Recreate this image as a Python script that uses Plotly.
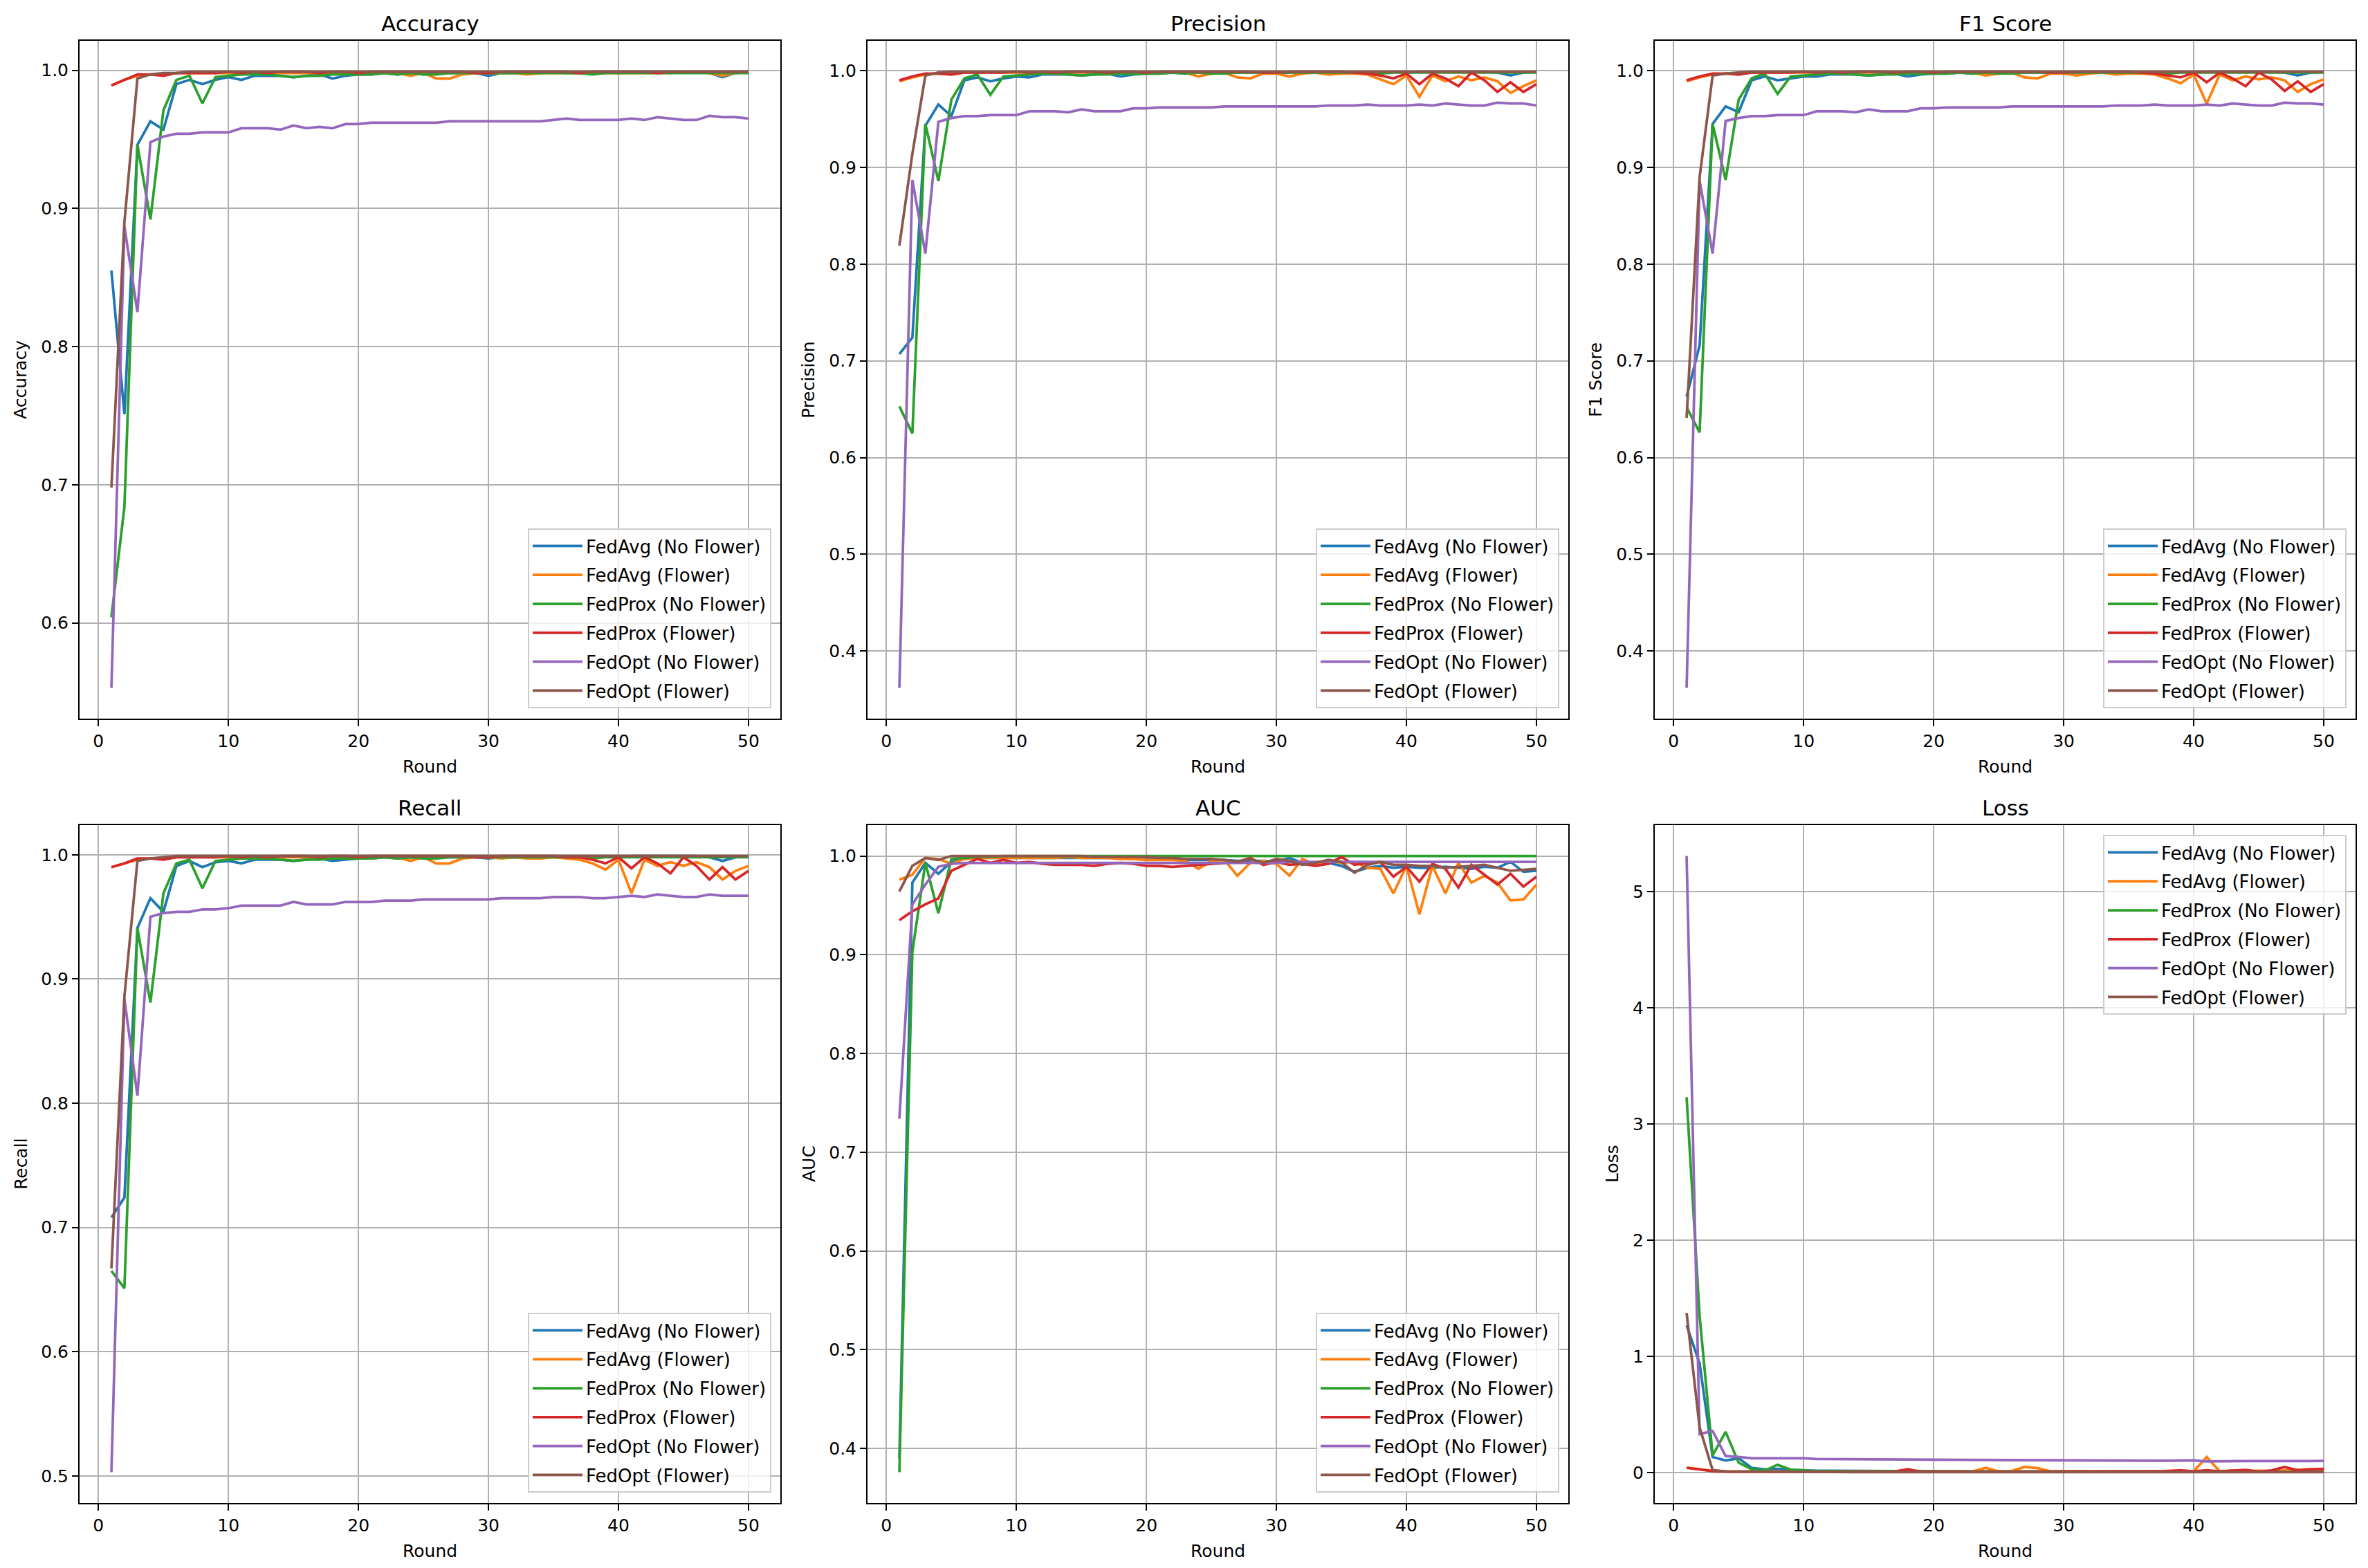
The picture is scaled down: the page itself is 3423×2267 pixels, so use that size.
import plotly.graph_objects as go
from plotly.subplots import make_subplots

ROUNDS = list(range(1, 51))

SERIES_NAMES = ['FedAvg (No Flower)', 'FedAvg (Flower)', 'FedProx (No Flower)',
                'FedProx (Flower)', 'FedOpt (No Flower)', 'FedOpt (Flower)']
COLORS = ['#1f77b4', '#ff7f0e', '#2ca02c', '#d62728', '#9467bd', '#8c564b']

# ---------------- Accuracy ----------------
acc_fedavg_nf = [0.855, 0.751, 0.946, 0.963, 0.957, 0.990, 0.993, 0.990, 0.993, 0.995,
                 0.993, 0.996, 0.996, 0.996, 0.995, 0.996, 0.997, 0.994, 0.996, 0.997,
                 0.997, 0.998, 0.997, 0.998, 0.997, 0.998, 0.998, 0.998, 0.998, 0.996,
                 0.998, 0.998, 0.998, 0.998, 0.999, 0.998, 0.998, 0.998, 0.999, 0.998,
                 0.999, 0.999, 0.999, 0.999, 0.999, 0.999, 0.998, 0.995, 0.998, 0.999]
acc_fedavg_f = [0.989, 0.993, 0.996, 0.997, 0.997, 0.998, 0.998, 0.998, 0.998, 0.998,
                0.998, 0.998, 0.998, 0.998, 0.998, 0.998, 0.998, 0.998, 0.998, 0.998,
                0.998, 0.998, 0.998, 0.996, 0.998, 0.994, 0.994, 0.997, 0.998, 0.998,
                0.998, 0.998, 0.997, 0.998, 0.998, 0.998, 0.998, 0.998, 0.998, 0.998,
                0.998, 0.998, 0.998, 0.998, 0.999, 0.999, 0.998, 0.996, 0.998, 0.999]
acc_fedprox_nf = [0.604, 0.684, 0.946, 0.892, 0.971, 0.993, 0.996, 0.976, 0.995, 0.996,
                  0.997, 0.997, 0.997, 0.996, 0.995, 0.996, 0.996, 0.997, 0.997, 0.997,
                  0.997, 0.998, 0.997, 0.998, 0.997, 0.997, 0.998, 0.998, 0.998, 0.998,
                  0.998, 0.998, 0.998, 0.998, 0.998, 0.998, 0.998, 0.997, 0.998, 0.998,
                  0.998, 0.998, 0.998, 0.998, 0.998, 0.998, 0.998, 0.998, 0.998, 0.998]
acc_fedprox_f = [0.989, 0.993, 0.997, 0.997, 0.996, 0.998, 0.998, 0.998, 0.998, 0.999,
                 0.998, 0.999, 0.998, 0.999, 0.999, 0.999, 0.998, 0.999, 0.999, 0.998,
                 0.999, 0.999, 0.999, 0.999, 0.999, 0.999, 0.999, 0.999, 0.998, 0.998,
                 0.999, 0.999, 0.999, 0.999, 0.999, 0.999, 0.998, 0.999, 0.999, 0.999,
                 0.999, 0.999, 0.998, 0.999, 0.999, 0.999, 0.999, 0.999, 0.999, 0.999]
acc_fedopt_nf = [0.553, 0.887, 0.825, 0.948, 0.952, 0.954, 0.954, 0.955, 0.955, 0.955,
                 0.958, 0.958, 0.958, 0.957, 0.960, 0.958, 0.959, 0.958, 0.961, 0.961,
                 0.962, 0.962, 0.962, 0.962, 0.962, 0.962, 0.963, 0.963, 0.963, 0.963,
                 0.963, 0.963, 0.963, 0.963, 0.964, 0.965, 0.964, 0.964, 0.964, 0.964,
                 0.965, 0.964, 0.966, 0.965, 0.964, 0.964, 0.967, 0.966, 0.966, 0.965]
acc_fedopt_f = [0.698, 0.890, 0.994, 0.997, 0.998, 0.998, 0.999, 0.999, 0.999, 0.999,
                0.999, 0.999, 0.999, 0.999, 0.999, 0.999, 0.999, 0.999, 0.999, 0.999,
                0.999, 0.999, 0.999, 0.999, 0.999, 0.999, 0.999, 0.999, 0.999, 0.999,
                0.999, 0.999, 0.999, 0.999, 0.999, 0.999, 0.999, 0.999, 0.999, 0.999,
                0.999, 0.999, 0.999, 0.999, 0.999, 0.999, 0.999, 0.999, 0.999, 0.999]

# ---------------- Precision ----------------
prec_fedavg_nf = [0.707, 0.724, 0.943, 0.965, 0.953, 0.990, 0.993, 0.989, 0.992, 0.994,
                  0.993, 0.996, 0.996, 0.996, 0.995, 0.996, 0.997, 0.994, 0.996, 0.997,
                  0.997, 0.998, 0.997, 0.998, 0.997, 0.998, 0.998, 0.998, 0.998, 0.997,
                  0.998, 0.998, 0.998, 0.998, 0.999, 0.998, 0.998, 0.998, 0.999, 0.998,
                  0.999, 0.999, 0.999, 0.999, 0.999, 0.999, 0.998, 0.995, 0.998, 0.999]
prec_fedavg_f = [0.989, 0.993, 0.996, 0.997, 0.997, 0.998, 0.998, 0.998, 0.998, 0.998,
                 0.998, 0.998, 0.998, 0.998, 0.998, 0.998, 0.998, 0.998, 0.998, 0.998,
                 0.998, 0.998, 0.998, 0.994, 0.997, 0.998, 0.993, 0.992, 0.997, 0.997,
                 0.994, 0.997, 0.998, 0.996, 0.997, 0.997, 0.996, 0.991, 0.986, 0.995,
                 0.973, 0.995, 0.989, 0.994, 0.990, 0.993, 0.989, 0.977, 0.984, 0.990]
prec_fedprox_nf = [0.653, 0.625, 0.945, 0.886, 0.970, 0.992, 0.996, 0.975, 0.994, 0.995,
                   0.996, 0.997, 0.997, 0.996, 0.995, 0.996, 0.996, 0.997, 0.997, 0.997,
                   0.997, 0.998, 0.997, 0.998, 0.997, 0.997, 0.998, 0.998, 0.998, 0.998,
                   0.998, 0.998, 0.998, 0.998, 0.998, 0.998, 0.998, 0.997, 0.998, 0.998,
                   0.998, 0.998, 0.998, 0.998, 0.998, 0.998, 0.998, 0.998, 0.998, 0.998]
prec_fedprox_f = [0.990, 0.994, 0.997, 0.997, 0.996, 0.998, 0.998, 0.998, 0.998, 0.999,
                  0.998, 0.999, 0.998, 0.999, 0.999, 0.999, 0.998, 0.999, 0.999, 0.998,
                  0.999, 0.999, 0.999, 0.999, 0.999, 0.999, 0.999, 0.999, 0.998, 0.998,
                  0.999, 0.999, 0.999, 0.999, 0.999, 0.998, 0.997, 0.995, 0.992, 0.997,
                  0.986, 0.997, 0.992, 0.984, 0.998, 0.990, 0.978, 0.988, 0.978, 0.986]
prec_fedopt_nf = [0.362, 0.887, 0.811, 0.947, 0.951, 0.953, 0.953, 0.954, 0.954, 0.954,
                  0.958, 0.958, 0.958, 0.957, 0.960, 0.958, 0.958, 0.958, 0.961, 0.961,
                  0.962, 0.962, 0.962, 0.962, 0.962, 0.963, 0.963, 0.963, 0.963, 0.963,
                  0.963, 0.963, 0.963, 0.964, 0.964, 0.964, 0.965, 0.964, 0.964, 0.964,
                  0.965, 0.964, 0.966, 0.965, 0.964, 0.964, 0.967, 0.966, 0.966, 0.964]
prec_fedopt_f = [0.819, 0.914, 0.995, 0.998, 0.999, 0.999, 0.999, 0.999, 0.999, 0.999,
                 0.999, 0.999, 0.999, 0.999, 0.999, 0.999, 0.999, 0.999, 0.999, 0.999,
                 0.999, 0.999, 0.999, 0.999, 0.999, 0.999, 0.999, 0.999, 0.999, 0.999,
                 0.999, 0.999, 0.999, 0.999, 0.999, 0.999, 0.999, 0.999, 0.999, 0.999,
                 0.999, 0.999, 0.999, 0.999, 0.999, 0.999, 0.999, 0.999, 0.999, 0.999]

# ---------------- F1 Score ----------------
f1_fedavg_nf = [0.663, 0.716, 0.945, 0.963, 0.957, 0.990, 0.994, 0.990, 0.992, 0.994,
                0.994, 0.996, 0.996, 0.996, 0.995, 0.996, 0.997, 0.994, 0.996, 0.997,
                0.997, 0.998, 0.997, 0.998, 0.997, 0.998, 0.998, 0.998, 0.998, 0.997,
                0.998, 0.998, 0.998, 0.998, 0.999, 0.998, 0.998, 0.998, 0.999, 0.998,
                0.999, 0.999, 0.999, 0.999, 0.999, 0.999, 0.998, 0.995, 0.998, 0.999]
f1_fedavg_f = [0.989, 0.993, 0.996, 0.997, 0.997, 0.998, 0.998, 0.998, 0.998, 0.998,
               0.998, 0.998, 0.998, 0.998, 0.998, 0.998, 0.998, 0.998, 0.998, 0.998,
               0.998, 0.998, 0.998, 0.995, 0.997, 0.998, 0.993, 0.992, 0.997, 0.997,
               0.995, 0.997, 0.998, 0.996, 0.997, 0.997, 0.996, 0.992, 0.987, 0.996,
               0.966, 0.996, 0.990, 0.994, 0.991, 0.993, 0.990, 0.978, 0.986, 0.991]
f1_fedprox_nf = [0.652, 0.626, 0.945, 0.887, 0.970, 0.992, 0.997, 0.976, 0.994, 0.995,
                 0.996, 0.997, 0.997, 0.996, 0.995, 0.996, 0.996, 0.997, 0.997, 0.997,
                 0.997, 0.998, 0.997, 0.998, 0.997, 0.997, 0.998, 0.998, 0.998, 0.998,
                 0.998, 0.998, 0.998, 0.998, 0.998, 0.998, 0.998, 0.997, 0.998, 0.998,
                 0.998, 0.998, 0.998, 0.998, 0.998, 0.998, 0.998, 0.998, 0.998, 0.998]
f1_fedprox_f = [0.990, 0.994, 0.997, 0.997, 0.996, 0.998, 0.998, 0.998, 0.998, 0.999,
                0.998, 0.999, 0.998, 0.999, 0.999, 0.999, 0.998, 0.999, 0.999, 0.998,
                0.999, 0.999, 0.999, 0.999, 0.999, 0.999, 0.999, 0.999, 0.998, 0.998,
                0.999, 0.999, 0.999, 0.999, 0.999, 0.998, 0.997, 0.995, 0.993, 0.998,
                0.988, 0.998, 0.992, 0.984, 0.998, 0.991, 0.979, 0.989, 0.978, 0.986]
f1_fedopt_nf = [0.362, 0.886, 0.811, 0.948, 0.951, 0.953, 0.953, 0.954, 0.954, 0.954,
                0.958, 0.958, 0.958, 0.957, 0.960, 0.958, 0.958, 0.958, 0.961, 0.961,
                0.962, 0.962, 0.962, 0.962, 0.962, 0.963, 0.963, 0.963, 0.963, 0.963,
                0.963, 0.963, 0.963, 0.964, 0.964, 0.964, 0.965, 0.964, 0.964, 0.964,
                0.965, 0.964, 0.966, 0.965, 0.964, 0.964, 0.967, 0.966, 0.966, 0.965]
f1_fedopt_f = [0.641, 0.890, 0.995, 0.997, 0.998, 0.999, 0.999, 0.999, 0.999, 0.999,
               0.999, 0.999, 0.999, 0.999, 0.999, 0.999, 0.999, 0.999, 0.999, 0.999,
               0.999, 0.999, 0.999, 0.999, 0.999, 0.999, 0.999, 0.999, 0.999, 0.999,
               0.999, 0.999, 0.999, 0.999, 0.999, 0.999, 0.999, 0.999, 0.999, 0.999,
               0.999, 0.999, 0.999, 0.999, 0.999, 0.999, 0.999, 0.999, 0.999, 0.999]

# ---------------- Recall ----------------
rec_fedavg_nf = [0.708, 0.724, 0.941, 0.965, 0.954, 0.991, 0.995, 0.990, 0.994, 0.995,
                 0.993, 0.996, 0.996, 0.996, 0.995, 0.996, 0.997, 0.995, 0.996, 0.997,
                 0.997, 0.998, 0.997, 0.998, 0.997, 0.998, 0.998, 0.998, 0.998, 0.997,
                 0.998, 0.998, 0.998, 0.998, 0.999, 0.998, 0.998, 0.998, 0.999, 0.998,
                 0.999, 0.999, 0.999, 0.999, 0.999, 0.999, 0.998, 0.995, 0.998, 0.999]
rec_fedavg_f = [0.990, 0.993, 0.996, 0.997, 0.997, 0.998, 0.998, 0.998, 0.998, 0.998,
                0.998, 0.998, 0.998, 0.998, 0.998, 0.998, 0.998, 0.998, 0.998, 0.998,
                0.998, 0.998, 0.998, 0.995, 0.998, 0.993, 0.993, 0.997, 0.998, 0.998,
                0.997, 0.998, 0.997, 0.997, 0.998, 0.997, 0.996, 0.993, 0.988, 0.996,
                0.969, 0.996, 0.991, 0.994, 0.991, 0.994, 0.990, 0.980, 0.987, 0.991]
rec_fedprox_nf = [0.665, 0.651, 0.941, 0.881, 0.969, 0.993, 0.996, 0.973, 0.995, 0.996,
                  0.997, 0.997, 0.997, 0.996, 0.995, 0.996, 0.996, 0.997, 0.997, 0.997,
                  0.997, 0.998, 0.997, 0.998, 0.997, 0.997, 0.998, 0.998, 0.998, 0.998,
                  0.998, 0.998, 0.998, 0.998, 0.998, 0.998, 0.998, 0.997, 0.998, 0.998,
                  0.998, 0.998, 0.998, 0.998, 0.998, 0.998, 0.998, 0.998, 0.998, 0.998]
rec_fedprox_f = [0.990, 0.993, 0.997, 0.997, 0.996, 0.998, 0.998, 0.998, 0.998, 0.999,
                 0.998, 0.999, 0.998, 0.999, 0.999, 0.999, 0.998, 0.999, 0.999, 0.998,
                 0.999, 0.999, 0.999, 0.999, 0.999, 0.999, 0.999, 0.999, 0.998, 0.998,
                 0.999, 0.999, 0.999, 0.999, 0.999, 0.998, 0.998, 0.996, 0.993, 0.998,
                 0.989, 0.998, 0.993, 0.985, 0.998, 0.991, 0.980, 0.990, 0.980, 0.987]
rec_fedopt_nf = [0.503, 0.884, 0.806, 0.950, 0.953, 0.954, 0.954, 0.956, 0.956, 0.957,
                 0.959, 0.959, 0.959, 0.959, 0.962, 0.960, 0.960, 0.960, 0.962, 0.962,
                 0.962, 0.963, 0.963, 0.963, 0.964, 0.964, 0.964, 0.964, 0.964, 0.964,
                 0.965, 0.965, 0.965, 0.965, 0.966, 0.966, 0.966, 0.965, 0.965, 0.966,
                 0.967, 0.966, 0.968, 0.967, 0.966, 0.966, 0.968, 0.967, 0.967, 0.967]
rec_fedopt_f = [0.667, 0.886, 0.995, 0.997, 0.998, 0.999, 0.999, 0.999, 0.999, 0.999,
                0.999, 0.999, 0.999, 0.999, 0.999, 0.999, 0.999, 0.999, 0.999, 0.999,
                0.999, 0.999, 0.999, 0.999, 0.999, 0.999, 0.999, 0.999, 0.999, 0.999,
                0.999, 0.999, 0.999, 0.999, 0.999, 0.999, 0.999, 0.999, 0.999, 0.999,
                0.999, 0.999, 0.999, 0.999, 0.999, 0.999, 0.999, 0.999, 0.999, 0.999]

# ---------------- AUC ----------------
auc_fedavg_nf = [0.390, 0.973, 0.993, 0.982, 0.994, 0.997, 0.998, 0.998, 0.998, 0.998,
                 0.998, 0.998, 0.998, 0.998, 0.998, 0.998, 0.998, 0.998, 0.997, 0.997,
                 0.997, 0.997, 0.996, 0.996, 0.996, 0.996, 0.995, 0.995, 0.995, 0.994,
                 0.998, 0.993, 0.992, 0.993, 0.990, 0.984, 0.988, 0.990, 0.988, 0.989,
                 0.988, 0.988, 0.989, 0.988, 0.987, 0.989, 0.988, 0.994, 0.984, 0.985]
auc_fedavg_f = [0.976, 0.981, 0.998, 0.997, 0.992, 0.997, 0.998, 0.998, 0.998, 0.998,
                0.998, 0.998, 0.998, 0.999, 0.998, 0.998, 0.998, 0.997, 0.997, 0.996,
                0.996, 0.996, 0.995, 0.987, 0.995, 0.996, 0.980, 0.993, 0.995, 0.992,
                0.980, 0.997, 0.991, 0.995, 0.993, 0.994, 0.988, 0.987, 0.962, 0.990,
                0.941, 0.990, 0.962, 0.993, 0.973, 0.980, 0.973, 0.955, 0.956, 0.971]
auc_fedprox_nf = [0.376, 0.903, 0.993, 0.942, 0.997, 0.998, 0.999, 0.999, 1.000, 1.000,
                  1.000, 1.000, 1.000, 1.000, 1.000, 1.000, 1.000, 1.000, 1.000, 1.000,
                  1.000, 1.000, 1.000, 1.000, 1.000, 1.000, 1.000, 1.000, 1.000, 1.000,
                  1.000, 1.000, 1.000, 1.000, 1.000, 1.000, 1.000, 1.000, 1.000, 1.000,
                  1.000, 1.000, 1.000, 1.000, 1.000, 1.000, 1.000, 1.000, 1.000, 1.000]
auc_fedprox_f = [0.935, 0.944, 0.951, 0.957, 0.985, 0.991, 0.997, 0.993, 0.996, 0.993,
                 0.994, 0.992, 0.991, 0.991, 0.991, 0.990, 0.992, 0.993, 0.992, 0.990,
                 0.990, 0.989, 0.990, 0.991, 0.992, 0.993, 0.994, 0.998, 0.991, 0.994,
                 0.991, 0.992, 0.990, 0.992, 0.999, 0.991, 0.993, 0.994, 0.979, 0.989,
                 0.974, 0.992, 0.987, 0.968, 0.991, 0.981, 0.971, 0.982, 0.969, 0.979]
auc_fedopt_nf = [0.734, 0.951, 0.971, 0.989, 0.992, 0.993, 0.993, 0.993, 0.993, 0.993,
                 0.993, 0.993, 0.993, 0.993, 0.993, 0.993, 0.993, 0.993, 0.993, 0.993,
                 0.993, 0.993, 0.993, 0.993, 0.993, 0.993, 0.993, 0.993, 0.993, 0.993,
                 0.994, 0.994, 0.994, 0.994, 0.994, 0.994, 0.994, 0.994, 0.994, 0.994,
                 0.994, 0.994, 0.994, 0.994, 0.994, 0.994, 0.994, 0.994, 0.994, 0.994]
auc_fedopt_f = [0.964, 0.990, 0.998, 0.996, 1.000, 1.000, 1.000, 1.000, 1.000, 1.000,
                1.000, 1.000, 1.000, 1.000, 1.000, 0.999, 0.999, 0.999, 0.999, 0.999,
                0.998, 0.998, 0.997, 0.997, 0.997, 0.996, 0.994, 0.997, 0.993, 0.997,
                0.995, 0.991, 0.993, 0.996, 0.994, 0.983, 0.991, 0.994, 0.991, 0.991,
                0.990, 0.990, 0.988, 0.989, 0.990, 0.991, 0.988, 0.985, 0.986, 0.987]

# ---------------- Loss ----------------
loss_fedavg_nf = [1.269, 0.940, 0.136, 0.106, 0.125, 0.042, 0.030, 0.034, 0.025, 0.020,
                  0.018, 0.017, 0.016, 0.015, 0.016, 0.015, 0.014, 0.018, 0.014, 0.013,
                  0.013, 0.012, 0.012, 0.011, 0.012, 0.011, 0.011, 0.011, 0.010, 0.013,
                  0.010, 0.010, 0.010, 0.010, 0.009, 0.009, 0.010, 0.009, 0.009, 0.009,
                  0.008, 0.008, 0.008, 0.008, 0.008, 0.008, 0.009, 0.015, 0.009, 0.008]
loss_fedavg_f = [0.045, 0.030, 0.016, 0.012, 0.012, 0.010, 0.010, 0.010, 0.010, 0.010,
                 0.010, 0.010, 0.009, 0.010, 0.009, 0.010, 0.010, 0.011, 0.009, 0.010,
                 0.010, 0.011, 0.012, 0.042, 0.012, 0.015, 0.050, 0.040, 0.012, 0.011,
                 0.015, 0.012, 0.013, 0.011, 0.012, 0.012, 0.011, 0.015, 0.020, 0.012,
                 0.136, 0.012, 0.020, 0.013, 0.018, 0.015, 0.020, 0.030, 0.030, 0.025]
loss_fedprox_nf = [3.231, 1.350, 0.150, 0.352, 0.087, 0.030, 0.019, 0.068, 0.027, 0.019,
                   0.015, 0.014, 0.013, 0.014, 0.015, 0.013, 0.012, 0.012, 0.012, 0.011,
                   0.011, 0.011, 0.010, 0.010, 0.010, 0.010, 0.010, 0.009, 0.009, 0.009,
                   0.009, 0.009, 0.009, 0.009, 0.009, 0.008, 0.008, 0.008, 0.008, 0.008,
                   0.008, 0.008, 0.008, 0.008, 0.007, 0.007, 0.007, 0.007, 0.007, 0.007]
loss_fedprox_f = [0.042, 0.027, 0.015, 0.010, 0.012, 0.009, 0.009, 0.009, 0.009, 0.008,
                  0.009, 0.008, 0.009, 0.008, 0.008, 0.009, 0.010, 0.030, 0.009, 0.010,
                  0.008, 0.008, 0.009, 0.008, 0.008, 0.008, 0.008, 0.008, 0.010, 0.011,
                  0.009, 0.009, 0.008, 0.009, 0.010, 0.012, 0.013, 0.015, 0.020, 0.012,
                  0.022, 0.011, 0.018, 0.025, 0.010, 0.020, 0.050, 0.020, 0.030, 0.034]
loss_fedopt_nf = [5.307, 0.333, 0.360, 0.144, 0.136, 0.125, 0.125, 0.125, 0.124, 0.125,
                  0.118, 0.117, 0.117, 0.117, 0.115, 0.116, 0.114, 0.115, 0.113, 0.112,
                  0.111, 0.111, 0.110, 0.110, 0.109, 0.109, 0.108, 0.108, 0.107, 0.107,
                  0.106, 0.106, 0.105, 0.105, 0.105, 0.104, 0.104, 0.104, 0.104, 0.106,
                  0.098, 0.100, 0.100, 0.100, 0.100, 0.099, 0.099, 0.099, 0.100, 0.102]
loss_fedopt_f = [1.375, 0.390, 0.023, 0.012, 0.010, 0.009, 0.008, 0.008, 0.007, 0.007,
                 0.007, 0.006, 0.006, 0.006, 0.006, 0.006, 0.005, 0.005, 0.005, 0.005,
                 0.005, 0.005, 0.005, 0.005, 0.005, 0.005, 0.005, 0.005, 0.005, 0.005,
                 0.005, 0.005, 0.005, 0.005, 0.005, 0.005, 0.005, 0.005, 0.005, 0.005,
                 0.005, 0.005, 0.005, 0.005, 0.005, 0.005, 0.005, 0.005, 0.005, 0.005]

METRICS = [
    ('Accuracy', [acc_fedavg_nf, acc_fedavg_f, acc_fedprox_nf, acc_fedprox_f, acc_fedopt_nf, acc_fedopt_f]),
    ('Precision', [prec_fedavg_nf, prec_fedavg_f, prec_fedprox_nf, prec_fedprox_f, prec_fedopt_nf, prec_fedopt_f]),
    ('F1 Score', [f1_fedavg_nf, f1_fedavg_f, f1_fedprox_nf, f1_fedprox_f, f1_fedopt_nf, f1_fedopt_f]),
    ('Recall', [rec_fedavg_nf, rec_fedavg_f, rec_fedprox_nf, rec_fedprox_f, rec_fedopt_nf, rec_fedopt_f]),
    ('AUC', [auc_fedavg_nf, auc_fedavg_f, auc_fedprox_nf, auc_fedprox_f, auc_fedopt_nf, auc_fedopt_f]),
    ('Loss', [loss_fedavg_nf, loss_fedavg_f, loss_fedprox_nf, loss_fedprox_f, loss_fedopt_nf, loss_fedopt_f]),
]

W, H = 3423, 2267
# axes boxes in pixels (matplotlib tight layout of the original)
COL_X = [(115, 1128), (1254, 2267), (2392, 3405)]
ROW_Y = [(59, 1039), (1193, 2173)]
FONT = 'DejaVu Sans'
TXT = 25


def px_x(v):
    return v / W


def px_y(v):
    return 1 - v / H


fig = make_subplots(rows=2, cols=3)

for i, (name, series) in enumerate(METRICS):
    row, col = i // 3 + 1, i % 3 + 1
    leg = 'legend' if i == 0 else f'legend{i + 1}'
    for s, vals in enumerate(series):
        fig.add_trace(go.Scatter(x=ROUNDS, y=vals, mode='lines', name=SERIES_NAMES[s],
                                 line=dict(color=COLORS[s], width=3.75), legend=leg,
                                 legendgroup=f'g{i}_{s}'),
                      row=row, col=col)

    x0, x1 = COL_X[col - 1]
    top, bot = ROW_Y[row - 1]
    lo = min(min(v) for v in series)
    hi = max(max(v) for v in series)
    pad = (hi - lo) * 0.05
    fig.update_xaxes(domain=[px_x(x0), px_x(x1)], range=[1 - 49 * 0.05, 50 + 49 * 0.05],
                     tickvals=[0, 10, 20, 30, 40, 50], row=row, col=col)
    if name == 'Loss':
        yt = dict(dtick=1, tickformat='d')
        ylab_off = 62
    else:
        yt = dict(dtick=0.1, tickformat='.1f')
        ylab_off = 85
    fig.update_yaxes(domain=[px_y(bot), px_y(top)], range=[lo - pad, hi + pad],
                     row=row, col=col, **yt)

    # subplot title
    fig.add_annotation(text=name, x=px_x((x0 + x1) / 2), y=px_y(top), xref='paper', yref='paper',
                       xanchor='center', yanchor='bottom', yshift=5, showarrow=False,
                       font=dict(size=31, family=FONT, color='black'))
    # x label
    fig.add_annotation(text='Round', x=px_x((x0 + x1) / 2), y=px_y(bot + 69), xref='paper', yref='paper',
                       xanchor='center', yanchor='middle', showarrow=False,
                       font=dict(size=TXT, family=FONT, color='black'))
    # y label
    fig.add_annotation(text=name, x=px_x(x0 - ylab_off), y=px_y((top + bot) / 2), xref='paper', yref='paper',
                       xanchor='center', yanchor='middle', textangle=-90, showarrow=False,
                       font=dict(size=TXT, family=FONT, color='black'))

    legend_cfg = dict(bgcolor='rgba(255,255,255,0.8)', bordercolor='#cccccc', borderwidth=2,
                      font=dict(size=26, family=FONT, color='black'), xanchor='right',
                      x=px_x(x1 - 13), tracegroupgap=5, itemwidth=72)
    if name == 'Loss':
        legend_cfg.update(yanchor='top', y=px_y(top + 14))
    else:
        legend_cfg.update(yanchor='bottom', y=px_y(bot - 15))
    fig.update_layout({leg: legend_cfg})

axis_style = dict(showline=True, mirror=True, linecolor='black', linewidth=2,
                  ticks='outside', ticklen=9, tickwidth=2, tickcolor='black',
                  showgrid=True, gridcolor='#b0b0b0', gridwidth=2, zeroline=False,
                  tickfont=dict(size=TXT, family=FONT, color='black'), automargin=False)
fig.update_xaxes(**axis_style)
fig.update_yaxes(**axis_style)

fig.update_layout(width=W, height=H, margin=dict(l=0, r=0, t=0, b=0),
                  paper_bgcolor='white', plot_bgcolor='white', showlegend=True,
                  font=dict(family=FONT, size=TXT, color='black'))

fig.write_html('out.html', config={'displayModeBar': False},
               post_script="document.body.style.margin='0px';")
